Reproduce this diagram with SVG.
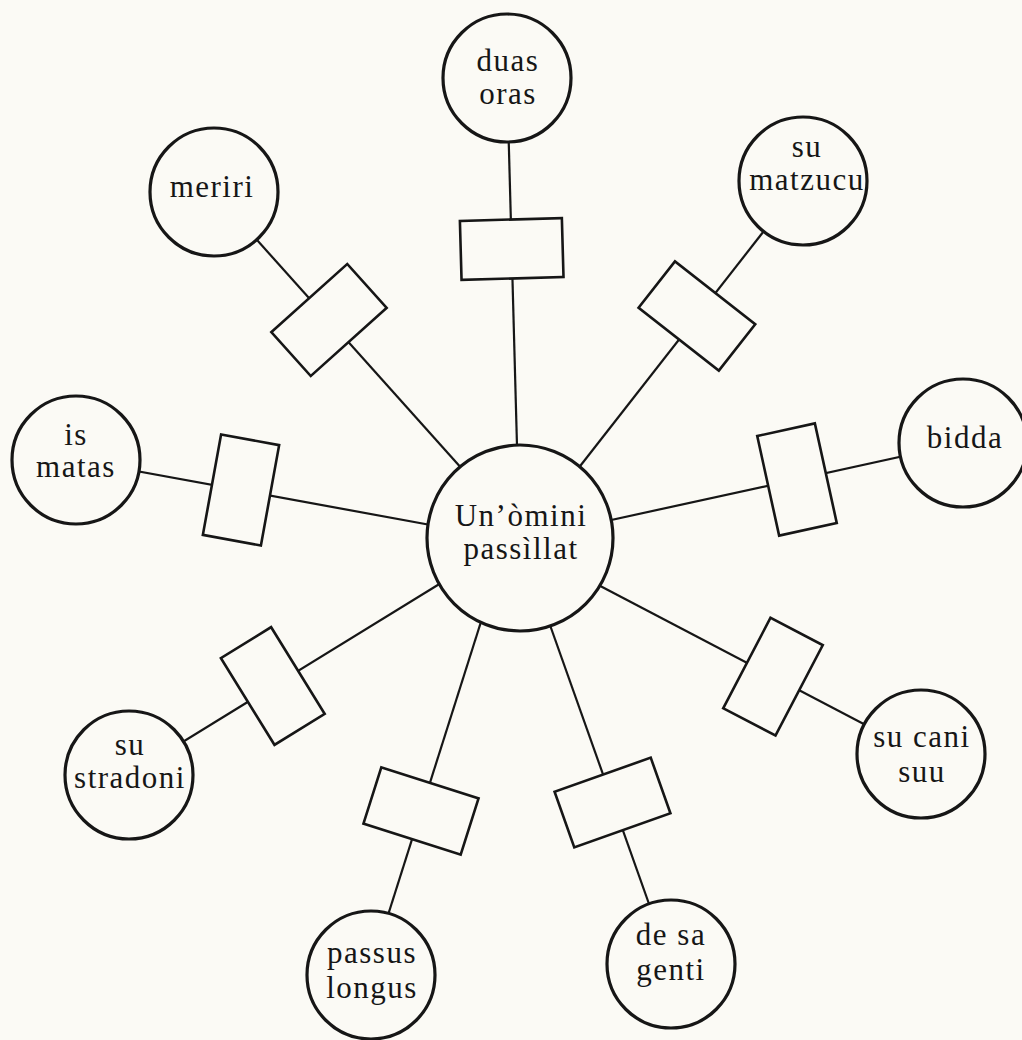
<svg xmlns="http://www.w3.org/2000/svg" width="1022" height="1040" viewBox="0 0 1022 1040">
<style>
.bg{fill:#fbfaf5}
.c{fill:#fbfaf5;stroke:#161616;stroke-width:3.2}
.b{fill:#fbfaf5;stroke:#161616;stroke-width:2.6}
.l{stroke:#161616;stroke-width:2.2;fill:none}
.t{font-family:'Liberation Serif','DejaVu Serif','Times New Roman',serif;font-size:31px;fill:#161616;text-anchor:middle;letter-spacing:1.5px}
</style>
<rect class="bg" x="0" y="0" width="1022" height="1040"/>
<g id="connectors">
<line class="l" x1="507" y1="78" x2="517.5" y2="464"/>
<line class="l" x1="214" y1="192" x2="472" y2="480"/>
<line class="l" x1="803" y1="181" x2="570" y2="479"/>
<line class="l" x1="76" y1="460" x2="447" y2="528"/>
<line class="l" x1="963" y1="443" x2="593" y2="524"/>
<line class="l" x1="129" y1="775" x2="454" y2="575"/>
<line class="l" x1="921" y1="754" x2="585" y2="578"/>
<line class="l" x1="369" y1="975" x2="486" y2="606"/>
<line class="l" x1="670" y1="963" x2="545" y2="611"/>
</g>
<g id="box-duas"><rect class="b" x="-51" y="-29.5" width="102" height="59" transform="translate(511.7,249) rotate(-1.6)"/></g>
<g id="box-meriri"><rect class="b" x="-51" y="-29.5" width="102" height="59" transform="translate(329,320) rotate(-41.9)"/></g>
<g id="box-matzucu"><rect class="b" x="-51" y="-29.5" width="102" height="59" transform="translate(696.9,316) rotate(38.1)"/></g>
<g id="box-matas"><rect class="b" x="-51" y="-29.5" width="102" height="59" transform="translate(241,490) rotate(-79.7)"/></g>
<g id="box-bidda"><rect class="b" x="-51" y="-29.5" width="102" height="59" transform="translate(797,479.5) rotate(77.6)"/></g>
<g id="box-stradoni"><rect class="b" x="-51" y="-29.5" width="102" height="59" transform="translate(272.8,686) rotate(58.3)"/></g>
<g id="box-cani"><rect class="b" x="-51" y="-29.5" width="102" height="59" transform="translate(773,676.7) rotate(117.6)"/></g>
<g id="box-passus"><rect class="b" x="-51" y="-29.5" width="102" height="59" transform="translate(421,811) rotate(17.6)"/></g>
<g id="box-genti"><rect class="b" x="-51" y="-29.5" width="102" height="59" transform="translate(612.5,802.5) rotate(-19.5)"/></g>
<g id="center"><circle class="c" cx="520" cy="538" r="93"/><text class="t" x="521" y="526">Un’òmini</text><text class="t" x="521" y="559">passìllat</text></g>
<g id="duas-oras"><circle class="c" cx="507" cy="78" r="64"/><text class="t" x="508" y="71">duas</text><text class="t" x="508" y="104">oras</text></g>
<g id="meriri"><circle class="c" cx="214" cy="192" r="64"/><text class="t" x="212" y="197">meriri</text></g>
<g id="su-matzucu"><circle class="c" cx="803" cy="181" r="64"/><text class="t" x="807" y="157">su</text><text class="t" x="807" y="190">matzucu</text></g>
<g id="is-matas"><circle class="c" cx="76" cy="460" r="64"/><text class="t" x="76" y="445">is</text><text class="t" x="76" y="477">matas</text></g>
<g id="bidda"><circle class="c" cx="963" cy="443" r="64"/><text class="t" x="965" y="448">bidda</text></g>
<g id="su-stradoni"><circle class="c" cx="129" cy="775" r="64"/><text class="t" x="130" y="755">su</text><text class="t" x="130" y="788">stradoni</text></g>
<g id="su-cani-suu"><circle class="c" cx="921" cy="754" r="64"/><text class="t" x="922" y="747">su cani</text><text class="t" x="922" y="782">suu</text></g>
<g id="passus-longus"><circle class="c" cx="371" cy="975" r="64"/><text class="t" x="372" y="963">passus</text><text class="t" x="372" y="998">longus</text></g>
<g id="de-sa-genti"><circle class="c" cx="671" cy="964" r="64"/><text class="t" x="671" y="945">de sa</text><text class="t" x="671" y="980">genti</text></g>
</svg>
